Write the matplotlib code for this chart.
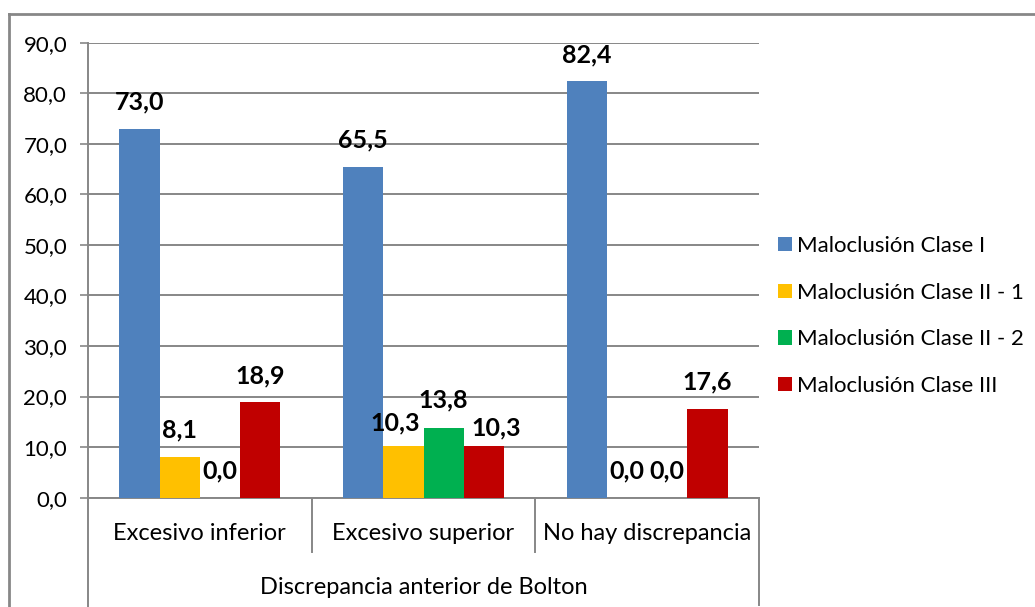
import matplotlib.pyplot as plt
from matplotlib.lines import Line2D
import numpy as np

plt.rcParams['font.family'] = ['Lato', 'DejaVu Sans']

categorias = ["Excesivo inferior", "Excesivo superior", "No hay discrepancia"]
series = ["Maloclusión Clase I", "Maloclusión Clase II - 1",
          "Maloclusión Clase II - 2", "Maloclusión Clase III"]
clase_i = [73.0, 65.5, 82.4]
clase_ii_1 = [8.1, 10.3, 0.0]
clase_ii_2 = [0.0, 13.8, 0.0]
clase_iii = [18.9, 10.3, 17.6]
titulo_eje = "Discrepancia anterior de Bolton"

valores = [clase_i, clase_ii_1, clase_ii_2, clase_iii]
colores = ["#4F81BD", "#FFC000", "#00B050", "#C00000"]
# desplazamiento de algunas etiquetas (puntos) para que no se solapen
ajustes = {(1, 1): (-6, -3), (2, 1): (0, 1), (3, 1): (9, -6)}

GRIS = "#878787"

fig = plt.figure(figsize=(10.35, 6.07), dpi=100)
ax = fig.add_axes([88 / 1035, 1 - 497.7 / 607, (759 - 88) / 1035, (497.7 - 42.7) / 607])

x = np.arange(len(categorias))
ancho = 0.18
for i, (vals, col, nombre) in enumerate(zip(valores, colores, series)):
    pos = x + (i - 1.5) * ancho
    ax.bar(pos, vals, width=ancho, color=col, label=nombre, zorder=3)
    for j, (p, v) in enumerate(zip(pos, vals)):
        dx, dy = ajustes.get((i, j), (0, 0))
        ax.annotate(f"{v:.1f}".replace(".", ","), (p, v),
                    xytext=(dx, 19 + dy), textcoords="offset points",
                    ha="center", va="center", fontsize=18, fontweight="bold",
                    color="black", zorder=4)

ax.set_xlim(-0.5, 2.5)
ax.set_ylim(0, 90)
ax.set_yticks(np.arange(0, 91, 10))
ax.set_yticklabels([f"{t:.1f}".replace(".", ",") for t in np.arange(0, 91, 10)])
ax.yaxis.grid(True, color=GRIS, linewidth=1.4, zorder=0)
ax.tick_params(axis="y", length=6, width=1.2, color=GRIS, labelsize=16, pad=9)
ax.tick_params(axis="x", length=0, labelbottom=False)
for s in ["top", "right"]:
    ax.spines[s].set_visible(False)
ax.spines["bottom"].set_color(GRIS)
ax.spines["bottom"].set_linewidth(1.4)
ax.spines["left"].set_visible(False)

# eje de categorías con dos niveles
tr = ax.get_xaxis_transform()
ax.plot([-0.5, -0.5], [1, -0.25], transform=tr, color=GRIS, lw=1.4, clip_on=False)
ax.plot([2.5, 2.5], [0, -0.235], transform=tr, color=GRIS, lw=1.4, clip_on=False)
for b in [0.5, 1.5]:
    ax.plot([b, b], [0, -0.12], transform=tr, color=GRIS, lw=1.4, clip_on=False)
for xi, cat in zip(x, categorias):
    ax.text(xi, -0.078, cat, transform=tr, ha="center", va="center", fontsize=17)
ax.text(1, -0.197, titulo_eje, transform=tr, ha="center", va="center", fontsize=17)

ax.legend(loc="center left", bbox_to_anchor=(758 / 1035, 1 - 316 / 607),
          bbox_transform=fig.transFigure, frameon=False, fontsize=16,
          handlelength=0.62, handleheight=0.62, handletextpad=0.25, labelspacing=1.2)

# marco exterior del gráfico
fig.add_artist(Line2D([9 / 1035, 9 / 1035], [0, 1 - 14 / 607], color=GRIS, lw=2))
fig.add_artist(Line2D([9 / 1035, 1], [1 - 14 / 607, 1 - 14 / 607], color=GRIS, lw=2))

fig.savefig("out.png", dpi=100)
